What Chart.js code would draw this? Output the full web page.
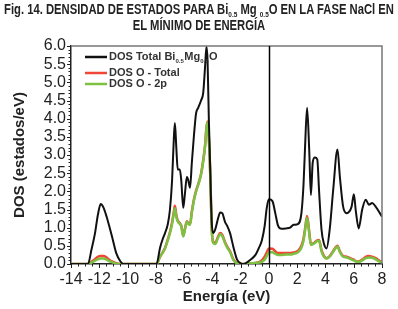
<!DOCTYPE html>
<html>
<head>
<meta charset="utf-8">
<script src="https://cdn.jsdelivr.net/npm/chart.js@4.4.1/dist/chart.umd.min.js"></script>
<style>
  html, body { margin: 0; padding: 0; background: #fff; }
  #wrap { position: relative; width: 398px; height: 309px; overflow: hidden; }
  #title {
    position: absolute; left: 0; top: 0; width: 398px; height: 34px; z-index: 2;
    color: #222; font-family: 'Liberation Sans', Arial, sans-serif;
    font-weight: bold; font-size: 14px; line-height: 15px;
  }
  #title span {
    position: absolute; left: 199px; display: inline-block; white-space: nowrap;
    transform-origin: 50% 50%; transform: translateX(-50%);
  }
  #t1 { top: 2px; }
  #t2 { top: 18px; }
  #title sub { font-size: 8px; line-height: 0; vertical-align: -3px; }
  canvas { position: absolute; left: 0; top: 0; }
</style>
</head>
<body>
<div id="wrap">
  <div id="title"><span id="t1">Fig. 14. DENSIDAD DE ESTADOS PARA Bi<sub>0.5</sub> Mg <sub>0.5</sub>O EN LA FASE NaCl EN</span><span id="t2">EL MÍNIMO DE ENERGÍA</span></div>
  <canvas id="dos" width="398" height="309"></canvas>
</div>
<script>
// energy grid (eV) shared by the three curves
const energia = [
  -14, -13, -12.8, -12.55, -12.3, -12.1, -11.9, -11.7, -11.48, -11.3, -11.1, -10.8, -10.5, -10.3,
  -9, -7.95, -7.7, -7.5, -7.35, -7.15, -7.0, -6.85, -6.72, -6.65, -6.55, -6.45, -6.3, -6.2,
  -6.06, -5.95, -5.8, -5.7, -5.58, -5.45, -5.3, -5.15, -5.0, -4.8, -4.65, -4.52, -4.42, -4.34,
  -4.25, -4.15, -4.05, -3.95, -3.8, -3.6, -3.45, -3.3, -3.1, -2.95, -2.75, -2.5, -2.25, -2.0,
  -1.8, -1.5, -1.2, -0.95, -0.7, -0.5, -0.3, -0.15, 0.0, 0.25, 0.45, 0.65, 0.9, 1.2, 1.5, 1.75,
  2.05, 2.3, 2.45, 2.55, 2.7, 2.85, 2.97, 3.1, 3.25, 3.42, 3.55, 3.72, 3.9, 4.08, 4.3, 4.55,
  4.85, 5.02, 5.25, 5.5, 5.85, 6.01, 6.15, 6.35, 6.6, 6.85, 7.07, 7.3, 7.55, 7.85, 8.0
]

const dosTotal = [
  0, 0, 0, 0.4, 0.85, 1.35, 1.65, 1.55, 1.3, 1.05, 0.76, 0.3, 0.07, 0,
  0, 0, 0.45, 0.7, 0.85, 1.1, 1.5, 2.3, 3.5, 3.88, 3.2, 2.6, 2.6, 2.3,
  1.55, 1.9, 2.4, 2.3, 2.1, 2.8, 3.55, 4.15, 4.3, 4.5, 4.7, 5.4, 5.98, 5.6,
  4.0, 2.6, 1.2, 0.85, 0.95, 1.25, 1.42, 1.4, 1.15, 1.05, 0.85, 0.45, 0.12, 0.02,
  0, 0.06, 0.15, 0.25, 0.45, 0.65, 1.05, 1.55, 1.78, 1.73, 1.4, 1.05, 0.97, 0.98, 1.0, 1.08,
  1.1, 1.4, 2.2, 3.15, 4.3, 3.15, 1.9, 2.8, 2.93, 2.88, 2.0, 0.95, 0.55, 0.43, 0.95, 2.05,
  3.15, 2.4, 1.58, 1.4, 1.58, 1.92, 1.45, 0.98, 1.5, 1.77, 1.63, 1.68, 1.58, 1.4, 1.3
]

const dosOTotal = [
  0, 0, 0, 0.06, 0.13, 0.2, 0.22, 0.22, 0.18, 0.12, 0.07, 0.02, 0, 0,
  0, 0, 0.2, 0.33, 0.44, 0.68, 0.88, 1.15, 1.45, 1.6, 1.35, 1.2, 1.12, 1.06,
  0.78, 0.95, 1.18, 1.12, 1.1, 1.45, 1.78, 2.02, 2.2, 2.48, 2.85, 3.25, 3.75, 3.92,
  3.5, 2.5, 1.05, 0.62, 0.58, 0.75, 0.85, 0.8, 0.6, 0.48, 0.35, 0.12, 0.03, 0,
  0, 0.01, 0.02, 0.03, 0.05, 0.1, 0.2, 0.32, 0.43, 0.42, 0.35, 0.3, 0.3, 0.3, 0.3, 0.32,
  0.36, 0.5, 0.7, 0.95, 1.32, 0.9, 0.55, 0.56, 0.6, 0.65, 0.66, 0.38, 0.22, 0.16, 0.22, 0.36,
  0.5, 0.35, 0.22, 0.2, 0.14, 0.12, 0.08, 0.07, 0.12, 0.2, 0.22, 0.2, 0.16, 0.08, 0.06
]

const dosO2p = [
  0, 0, 0, 0.04, 0.09, 0.13, 0.15, 0.15, 0.12, 0.08, 0.05, 0.01, 0, 0,
  0, 0, 0.2, 0.32, 0.43, 0.66, 0.85, 1.1, 1.4, 1.53, 1.3, 1.17, 1.1, 1.04,
  0.76, 0.93, 1.16, 1.1, 1.08, 1.42, 1.76, 2.0, 2.18, 2.46, 2.82, 3.22, 3.72, 3.9,
  3.45, 2.45, 1.0, 0.58, 0.55, 0.72, 0.82, 0.77, 0.57, 0.45, 0.33, 0.1, 0.02, 0,
  0, 0.01, 0.02, 0.03, 0.04, 0.06, 0.12, 0.22, 0.32, 0.32, 0.28, 0.25, 0.25, 0.26, 0.26, 0.28,
  0.32, 0.45, 0.65, 0.9, 1.27, 0.86, 0.52, 0.54, 0.58, 0.63, 0.64, 0.35, 0.2, 0.15, 0.2, 0.34,
  0.48, 0.33, 0.2, 0.18, 0.12, 0.1, 0.07, 0.06, 0.1, 0.16, 0.18, 0.17, 0.13, 0.06, 0.05
]

const xRange = [-14, 8]
const yRange = [0, 6]

// squeeze the title lines to the narrow width of the original caption
const t1 = document.getElementById('t1')
const t2 = document.getElementById('t2')
const squeeze = Math.min(1, 390 / t1.getBoundingClientRect().width)
t1.style.transform = t2.style.transform = `translateX(-50%) scaleX(${squeeze})`

const toPoints = (vals) => energia.map((e, i) => ({ x: e, y: vals[i] }))

// outward minor/major ticks, box frame and the E = 0 line
const framePlugin = {
  id: 'frame',
  afterDatasetsDraw(chart) {
    const { ctx, chartArea: a, scales: { x, y } } = chart
    ctx.save()
    ctx.strokeStyle = '#777'
    ctx.lineWidth = 1.5
    ctx.beginPath()
    ctx.moveTo(a.left, a.top); ctx.lineTo(a.right, a.top); ctx.lineTo(a.right, a.bottom)
    ctx.stroke()

    ctx.strokeStyle = '#000'
    ctx.lineWidth = 1.5
    const x0 = Math.round(x.getPixelForValue(0)) + 0.5
    ctx.beginPath(); ctx.moveTo(x0, a.top); ctx.lineTo(x0, a.bottom); ctx.stroke()

    ctx.strokeStyle = '#222'
    ctx.lineWidth = 1
    ctx.beginPath()
    for (let v = xRange[0]; v <= xRange[1] + 1e-6; v += 0.5) {
      const px = Math.round(x.getPixelForValue(v)) + 0.5
      const len = Math.abs(v % 2) < 1e-6 ? 4 : 2.5
      ctx.moveTo(px, a.bottom); ctx.lineTo(px, a.bottom + len)
    }
    for (let i = 0; i <= 60; i++) {
      const v = i / 10
      const py = Math.round(y.getPixelForValue(v)) + 0.5
      const len = i % 5 === 0 ? 4 : 2.5
      ctx.moveTo(a.left, py); ctx.lineTo(a.left - len, py)
    }
    ctx.stroke()
    ctx.restore()
  }
}

// legend with subscripts
const legendItems = [
  { color: '#111', parts: [['DOS Total Bi', 0], ['0.5', 1], ['Mg', 0], ['0.5', 1], ['O', 0]] },
  { color: '#ef4636', parts: [['DOS O - Total', 0]] },
  { color: '#7cc142', parts: [['DOS O - 2p', 0]] }
]
const legendPlugin = {
  id: 'subLegend',
  afterDraw(chart) {
    const { ctx } = chart
    const rows = [57, 73, 84]
    ctx.save()
    ctx.textBaseline = 'middle'
    legendItems.forEach((it, i) => {
      const yy = rows[i]
      ctx.strokeStyle = it.color
      ctx.lineWidth = 2.5
      ctx.beginPath(); ctx.moveTo(85, yy); ctx.lineTo(107, yy); ctx.stroke()
      let xx = 109
      it.parts.forEach(([txt, sub]) => {
        ctx.font = sub ? 'bold 6px "Liberation Sans", Arial, sans-serif' : 'bold 11px "Liberation Sans", Arial, sans-serif'
        ctx.fillStyle = '#333'
        ctx.fillText(txt, xx, sub ? yy + 4 : yy)
        xx += ctx.measureText(txt).width + (sub ? 0.5 : 0)
      })
    })
    ctx.restore()
  }
}

const tickFont = { family: '"Liberation Sans", Arial, sans-serif', size: 16 }
const titleFont = { family: '"Liberation Sans", Arial, sans-serif', size: 15, weight: 'bold' }

new Chart(document.getElementById('dos'), {
  type: 'line',
  data: {
    datasets: [
      { label: 'DOS Total Bi0.5Mg0.5O', data: toPoints(dosTotal), borderColor: '#111', borderWidth: 2 },
      { label: 'DOS O - 2p', data: toPoints(dosO2p), borderColor: '#7cc142', borderWidth: 2.5 },
      { label: 'DOS O - Total', data: toPoints(dosOTotal), borderColor: '#ef4636', borderWidth: 2.5 }
    ]
  },
  options: {
    responsive: false,
    animation: false,
    devicePixelRatio: 1,
    layout: { padding: { top: 46, right: 16, left: 0, bottom: 0 } },
    elements: {
      point: { radius: 0 },
      line: { cubicInterpolationMode: 'monotone', fill: false, borderJoinStyle: 'round' }
    },
    plugins: { legend: { display: false }, tooltip: { enabled: false } },
    scales: {
      x: {
        type: 'linear',
        min: xRange[0], max: xRange[1],
        afterFit(scale) { scale.height = 45 },
        ticks: { stepSize: 2, autoSkip: false, color: '#222', font: tickFont, padding: 6, maxRotation: 0 },
        grid: { display: false, drawTicks: false },
        border: { display: true, color: '#222', width: 1.5 },
        title: { display: true, text: 'Energía (eV)', color: '#222', font: titleFont, padding: { top: 0, bottom: 3 } }
      },
      y: {
        min: yRange[0], max: yRange[1],
        afterFit(scale) { scale.width = 71 },
        ticks: { stepSize: 0.5, autoSkip: false, color: '#222', font: tickFont, padding: 5, callback: (v) => v.toFixed(1) },
        grid: { display: false, drawTicks: false },
        border: { display: true, color: '#222', width: 1.5 },
        title: { display: true, text: 'DOS (estados/eV)', color: '#222', font: titleFont, padding: { top: 11, bottom: 0 } }
      }
    }
  },
  plugins: [framePlugin, legendPlugin]
})
</script>
</body>
</html>
